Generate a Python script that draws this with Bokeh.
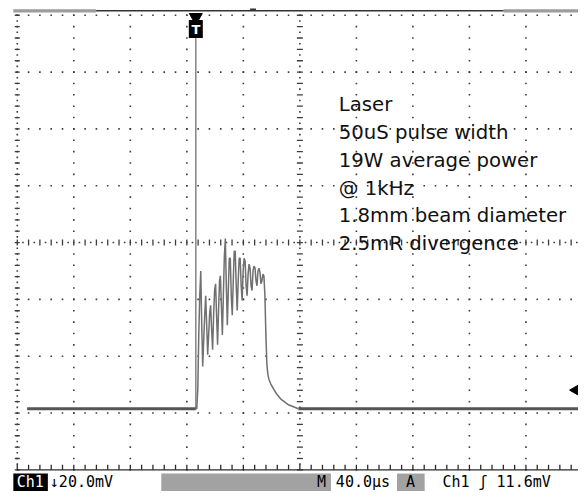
import math
import numpy as np
from bokeh.plotting import figure
from bokeh.models import Range1d, Label
from bokeh.embed import file_html
from bokeh.resources import INLINE

# ---------------- data ----------------
# scope settings
US_PER_DIV = 40.0      # M 40.0us
MV_PER_DIV = 20.0      # Ch1 20.0mV
TRIGGER_LEVEL_MV = 11.6

# Ch1 trace: flat baseline (ground level, 0 mV) before and after the pulse
baseline_time_us = [[-119.4, 0.0], [72.6, 273.6]]
baseline_mv = [[0.0, 0.0], [0.0, 0.0]]

# laser pulse, time after trigger (us) and amplitude (mV)
pulse_time_us = [0.0, 0.7, 1.4, 2.1, 2.8, 3.5, 4.2, 4.9, 5.6, 6.3,
                 7.0, 7.7, 8.4, 9.1, 9.8, 10.5, 11.2, 11.9, 12.6, 13.3,
                 14.0, 14.7, 15.4, 16.1, 16.8, 17.4, 18.1, 18.8, 19.5, 20.2,
                 20.9, 21.6, 22.3, 23.0, 23.7, 24.4, 25.1, 25.8, 26.5, 27.2,
                 27.9, 28.6, 29.3, 30.0, 30.7, 31.4, 32.1, 32.8, 33.5, 34.2,
                 34.9, 35.6, 36.3, 37.0, 37.7, 38.4, 39.1, 39.8, 40.5, 41.2,
                 41.9, 42.6, 43.3, 44.0, 44.7, 45.4, 46.1, 46.8, 47.5, 48.2,
                 48.9, 49.6, 50.3, 51.0, 51.7,
                 53.1, 55.1, 57.2, 60.0, 62.8, 65.6, 69.1, 72.6]
pulse_mv = [0.0, 0.0, 6.9, 26.0, 39.8, 48.5, 29.4, 14.9, 24.2, 32.9,
            39.8, 29.4, 19.0, 26.0, 33.6, 36.4, 27.7, 20.8, 32.9, 41.6,
            44.0, 32.9, 22.5, 34.6, 45.0, 46.8, 36.4, 26.0, 39.8, 53.7,
            59.9, 43.3, 29.4, 41.6, 53.0, 53.0, 39.8, 32.9, 45.0, 55.4,
            55.4, 43.3, 34.6, 45.0, 53.0, 53.0, 43.3, 38.1, 48.5, 53.0,
            51.9, 43.3, 39.8, 47.4, 50.9, 49.5, 43.3, 41.6, 48.5, 50.2,
            49.5, 45.0, 43.3, 48.5, 49.5, 48.1, 44.0, 45.0, 47.4, 46.8,
            39.8, 26.0, 15.6, 12.1, 10.4,
            8.7, 6.9, 5.2, 3.5, 2.4, 1.4, 0.7, 0.0]

note_lines = ["Laser", "50uS pulse width", "19W average power",
              "@ 1kHz", "1.8mm beam diameter", "2.5mR divergence"]

status_ch = "Ch1"
status_scale = "\u219320.0mV"
status_m = "M"
status_time = "40.0\u00b5s"
status_a = "A"
status_trig = "Ch1  \u0283 11.6mV"

# ---------------- layout (graticule placement) ----------------
SCREEN_CENTER_US = 73.65   # screen centre, in us after the trigger
SCREEN_CENTER_MV = 58.5    # screen centre, in mV above ground


def gx(d):
    return SCREEN_CENTER_US + d * US_PER_DIV


def gy(d):
    return SCREEN_CENTER_MV + d * MV_PER_DIV


p = figure(width=578, height=491, output_backend="svg", toolbar_location=None,
           x_axis_type=None, y_axis_type=None,
           x_range=Range1d(gx(-5.297), gx(4.930)),
           y_range=Range1d(gy(-4.381), gy(4.260)),
           min_border=0, outline_line_color=None)
p.background_fill_color = "white"
p.border_fill_color = "white"

DOT = "#3c3c3c"

# regular grid dots (every 0.2 division)
steps_v = np.round(np.arange(-4.0, 4.0001, 0.2), 3)
steps_h = np.round(np.arange(-5.0, 5.0001, 0.2), 3)
dx, dy = [], []
for k in [-5, -4, -3, -2, -1, 1, 2, 3, 4]:
    for s in steps_v:
        dx.append(gx(k)); dy.append(gy(s))
for k in [-3, -2, -1, 1, 2, 3, 4]:
    for s in steps_h:
        dx.append(gx(s)); dy.append(gy(k))
# extra dots on centre lines / left border (half steps)
for s in steps_v[:-1]:
    dx += [gx(0), gx(-5)]; dy += [gy(s + 0.1), gy(s + 0.1)]
for s in steps_h[:-1]:
    dx.append(gx(s + 0.1)); dy.append(gy(0))
p.rect(dx, dy, width=1.6, height=1.6, width_units="screen", height_units="screen",
       fill_color=DOT, line_color=None)

# centre-line tick marks
p.rect([gx(0)] * len(steps_v), [gy(s) for s in steps_v], width=6, height=1.3,
       width_units="screen", height_units="screen", fill_color=DOT, line_color=None)
p.rect([gx(-5)] * len(steps_v), [gy(s) for s in steps_v], width=5, height=1.3,
       width_units="screen", height_units="screen", fill_color=DOT, line_color=None)
p.rect([gx(s) for s in steps_h], [gy(0)] * len(steps_h), width=1.3, height=6,
       width_units="screen", height_units="screen", fill_color=DOT, line_color=None)
# bottom border line with ticks
p.segment(x0=[gx(-5)], y0=[gy(-4)], x1=[gx(5.2)], y1=[gy(-4)], line_color="#2a2a2a", line_width=1.3)
p.rect([gx(s) for s in steps_h], [gy(-4 + 0.045)] * len(steps_h), width=1.3, height=5,
       width_units="screen", height_units="screen", fill_color="#2a2a2a", line_color=None)

# top record bar
p.quad(left=[gx(-5.07), gx(3.604)], right=[gx(-3.604), gx(5.2)],
       bottom=[gy(4.050)] * 2, top=[gy(4.106)] * 2, fill_color="#9c9c9c", line_color=None)
p.segment(x0=[gx(-3.604)], y0=[gy(4.078)], x1=[gx(3.604)], y1=[gy(4.078)],
          line_color="#333333", line_width=1.5)
p.quad(left=[gx(-0.881)], right=[gx(-0.777)], bottom=[gy(4.075)], top=[gy(4.12)],
       fill_color="#333333", line_color=None)

# trigger position cursor
p.segment(x0=[0.0], y0=[0.0], x1=[0.0], y1=[gy(3.60)], line_color="#8c8c8c", line_width=1.6)
p.scatter([0.0], [gy(3.965)], marker="inverted_triangle", size=13, color="black")
p.rect([0.0], [gy(3.758)], width=14, height=18, width_units="screen", height_units="screen",
       fill_color="black", line_color=None)
p.add_layout(Label(x=0.0, y=gy(3.758), text="T", text_color="white", text_align="center",
                   text_baseline="middle", text_font="DejaVu Sans", text_font_size="13px",
                   text_font_style="bold"))

# trigger level marker on the right
p.scatter([gx(4.885)], [gy(-2.597)], marker="triangle", angle=math.pi / 2, size=11, color="black")

# trace
p.multi_line(baseline_time_us, baseline_mv, line_color="#555555", line_width=3.2)
p.line(pulse_time_us, pulse_mv, line_color="#707070", line_width=1.5)

# annotation text
for i, t in enumerate(note_lines):
    p.add_layout(Label(x=gx(0.689), y=gy(2.424 - i * 0.4883), text=t, text_color="#111111",
                       text_align="left", text_baseline="alphabetic",
                       text_font="DejaVu Sans", text_font_size="19.7px"))

# status bar
SB_TOP, SB_BOT = gy(-4.065), gy(-4.6)
p.quad(left=[gx(-5.07)], right=[gx(-4.459)], bottom=[SB_BOT], top=[SB_TOP],
       fill_color="black", line_color=None)
p.quad(left=[gx(-2.452), gx(1.719)], right=[gx(0.550), gx(2.208)],
       bottom=[SB_BOT] * 2, top=[SB_TOP] * 2, fill_color="#a2a2a2", line_color=None)
sb_y = gy(-4.215)
status = [(gx(-4.77), status_ch, "white", "center"),
          (gx(-4.424), status_scale, "black", "left"),
          (gx(0.305), status_m, "black", "left"),
          (gx(0.637), status_time, "black", "left"),
          (gx(1.876), status_a, "black", "left"),
          (gx(2.522), status_trig, "black", "left")]
for x, t, c, a in status:
    p.add_layout(Label(x=x, y=sb_y, text=t, text_color=c, text_align=a,
                       text_baseline="alphabetic", text_font="DejaVu Sans Mono",
                       text_font_size="15px"))

open("out.html", "w").write(file_html(p, INLINE))
